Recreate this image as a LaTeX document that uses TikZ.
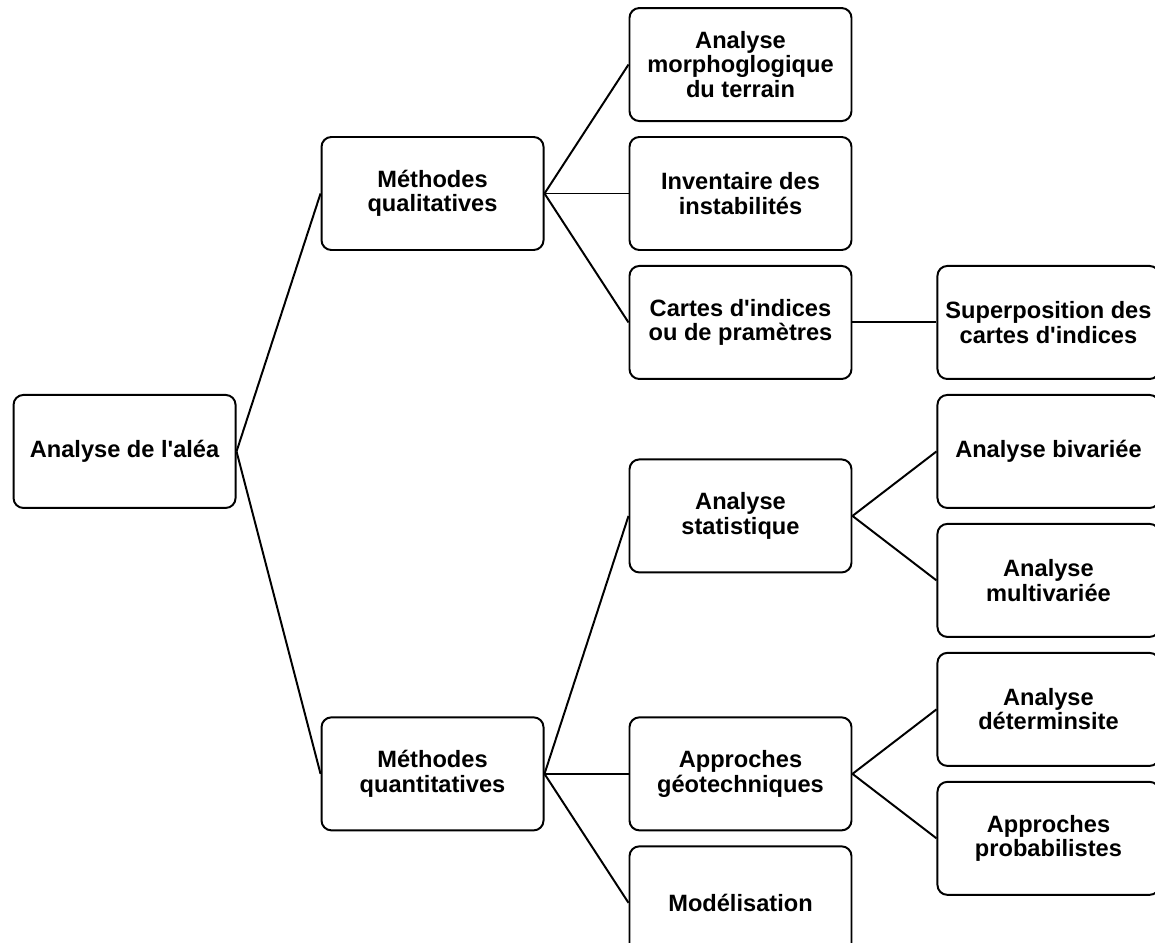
\documentclass[tikz,border=0pt]{standalone}
\usepackage{fontspec}
\setmainfont{Liberation Sans}
\usetikzlibrary{positioning,calc}

\begin{document}
\begin{tikzpicture}
[font=\bfseries\fontsize{16.8}{17.3}\selectfont,
    every node/.style={rectangle, rounded corners=7pt, draw=black,
    line width=1.4pt, minimum width=5.55cm, minimum height=2.825cm,
    inner sep=2pt, align=center},
    node distance=0.35cm and 2.1cm,
    line width=1.4pt,
    ]

    \useasboundingbox (-18.5125,4.8375) rectangle (10.3625,-18.7125);

    \node (inventaire) at (0,0) {Inventaire des\\instabilités};
    \node (morpho) [above=of inventaire] {Analyse\\morphoglogique\\du terrain};
    \node (cartes) [below=of inventaire] {Cartes d\textquotesingle indices\\ou de pramètres};
    \node (qualit) [left=of inventaire] {Méthodes\\qualitatives};

    \node (superpos) [right=of cartes] {Superposition des\\cartes d\textquotesingle indices};
    \node (bivariee) [below=of superpos] {Analyse bivariée};
    \node (multivariee) [below=of bivariee] {Analyse\\multivariée};
    \node (determ) [below=of multivariee] {Analyse\\déterminsite};
    \node (probab) [below=of determ] {Approches\\probabilistes};

    \coordinate (stat_mid) at ($(bivariee.west)!0.5!(multivariee.west)$);
    \coordinate (geo_mid) at ($(determ.west)!0.5!(probab.west)$);
    \node (stat) [left=of stat_mid] {Analyse\\statistique};
    \node (geotech) [left=of geo_mid] {Approches\\géotechniques};
    \node (modelis) [below=of geotech] {Modélisation};
    \node (quantit) [left=of geotech] {Méthodes\\quantitatives};

    \coordinate (alea_pt) at (qualit.west |- bivariee);
    \node (alea) [left=of alea_pt] {Analyse de l\textquotesingle aléa};


    \draw (alea.east) -- (qualit.west);
    \draw (alea.east) -- (quantit.west);
    \draw (qualit.east) -- (morpho.west);
    \draw (qualit.east) -- (inventaire.west);
    \draw (qualit.east) -- (cartes.west);
    \draw (cartes.east) -- (superpos.west);
    \draw (quantit.east) -- (stat.west);
    \draw (quantit.east) -- (geotech.west);
    \draw (quantit.east) -- (modelis.west);
    \draw (stat.east) -- (bivariee.west);
    \draw (stat.east) -- (multivariee.west);
    \draw (geotech.east) -- (determ.west);
    \draw (geotech.east) -- (probab.west);

\end{tikzpicture}
\end{document}
